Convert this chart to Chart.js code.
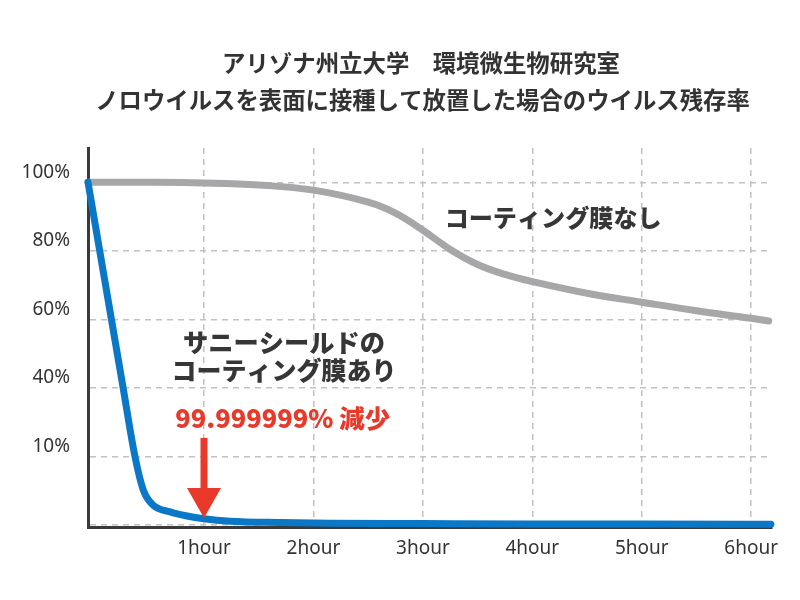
<!DOCTYPE html>
<html>
<head>
<meta charset="utf-8">
<script src="https://cdn.jsdelivr.net/npm/chart.js@4"></script>
<style>
  html, body { margin: 0; padding: 0; background: #ffffff; }
  #wrap { width: 800px; height: 600px; position: relative; }
</style>
</head>
<body>
<div id="wrap"><canvas id="c" width="800" height="600"></canvas></div>
<script>
// ---- data ----
const titleLines = ["アリゾナ州立大学　環境微生物研究室", "ノロウイルスを表面に接種して放置した場合のウイルス残存率"];
const xTickValues = [1, 2, 3, 4, 5, 6];
const xTickLabels = ["1hour", "2hour", "3hour", "4hour", "5hour", "6hour"];
const yTickValues = [0, 20, 40, 60, 80, 100];
const yTickLabels = ["", "10%", "40%", "60%", "80%", "100%"];

const seriesNames = ["サニーシールドのコーティング膜あり", "コーティング膜なし"];
const coatedHours = [-0.06, 0.047, 0.154, 0.261, 0.369, 0.445, 0.534, 0.69, 0.845, 1.0, 1.24, 1.7, 2.15, 3.0, 4.0, 5.0, 6.18];
const coatedValues = [100, 80, 60, 40, 20, 10.2, 5.8, 3.8, 2.6, 1.8, 1.1, 0.7, 0.5, 0.4, 0.3, 0.25, 0.2];
const uncoatedHours = [-0.06, 0.5, 1.0, 1.5, 2.0, 2.5, 2.75, 3.0, 3.25, 3.5, 3.75, 4.0, 4.5, 5.0, 5.5, 6.0, 6.16];
const uncoatedValues = [100, 100, 99.8, 99.2, 97.7, 94.2, 91.0, 86.0, 80.4, 76.0, 73.1, 71.0, 67.6, 65.0, 62.5, 60.3, 59.5];

const noteUncoated = "コーティング膜なし";
const noteCoated = ["サニーシールドの", "コーティング膜あり"];
const noteReduction = "99.999999% 減少";

// ---- build ----
const toPoints = (xs, ys) => xs.map((x, i) => ({ x: x, y: ys[i] }));

const CJK = '"Noto Sans CJK JP", "Noto Sans", sans-serif';

function fitText(ctx, text, cx, cy, width, weight, color) {
  ctx.font = weight + ' 20px ' + CJK;
  const w = ctx.measureText(text).width;
  const size = 20 * width / w;
  ctx.font = weight + ' ' + size.toFixed(2) + 'px ' + CJK;
  ctx.fillStyle = color;
  ctx.textAlign = 'center';
  ctx.textBaseline = 'middle';
  ctx.fillText(text, cx, cy);
}

const annotations = {
  id: 'annotations',
  afterDatasetsDraw(chart) {
    const ctx = chart.ctx;
    const xs = chart.scales.x, ys = chart.scales.y;
    ctx.save();
    // title
    fitText(ctx, titleLines[0], 421, 63, 398, '700', '#333333');
    fitText(ctx, titleLines[1], 422.5, 100, 655, '700', '#333333');
    // notes
    fitText(ctx, noteUncoated, xs.getPixelForValue(4.19), ys.getPixelForValue(89.5), 217, '900', '#363636');
    fitText(ctx, noteCoated[0], xs.getPixelForValue(1.73), ys.getPixelForValue(53.4), 202, '900', '#363636');
    fitText(ctx, noteCoated[1], xs.getPixelForValue(1.73), ys.getPixelForValue(45.2), 225, '900', '#363636');
    fitText(ctx, noteReduction, xs.getPixelForValue(1.72), ys.getPixelForValue(31.2), 215, '900', '#e8392a');
    // arrow
    const ax = xs.getPixelForValue(1.0);
    const yTop = ys.getPixelForValue(25.4);
    const yBase = ys.getPixelForValue(10.8);
    const yTip = ys.getPixelForValue(2.0);
    ctx.fillStyle = '#e8392a';
    ctx.fillRect(ax - 3.5, yTop, 7, yBase - yTop + 1);
    ctx.beginPath();
    ctx.moveTo(ax - 17, yBase);
    ctx.lineTo(ax + 17, yBase);
    ctx.lineTo(ax, yTip);
    ctx.closePath();
    ctx.fill();
    ctx.restore();
  }
};

new Chart(document.getElementById('c'), {
  type: 'line',
  data: {
    datasets: [
      {
        label: seriesNames[0],
        data: toPoints(coatedHours, coatedValues),
        borderColor: '#0a78c6',
        borderWidth: 7,
        pointRadius: 0,
        cubicInterpolationMode: 'monotone',
        borderCapStyle: 'round',
        borderJoinStyle: 'round',
        fill: false,
        clip: false
      },
      {
        label: seriesNames[1],
        data: toPoints(uncoatedHours, uncoatedValues),
        borderColor: '#a7a7a9',
        borderWidth: 7,
        pointRadius: 0,
        tension: 0.4,
        borderCapStyle: 'round',
        borderJoinStyle: 'round',
        fill: false,
        clip: false
      }
    ]
  },
  options: {
    responsive: false,
    animation: false,
    devicePixelRatio: 1,
    layout: { padding: { top: 148, right: 28, bottom: 0, left: 0 } },
    plugins: {
      legend: { display: false },
      title: { display: false },
      tooltip: { enabled: false }
    },
    scales: {
      x: {
        type: 'linear',
        min: -0.06,
        max: 6.19,
        afterBuildTicks(axis) { axis.ticks = xTickValues.map(v => ({ value: v })); },
        afterFit(axis) { axis.height = 73; },
        ticks: {
          padding: 10,
          color: '#333333',
          font: { family: '"Noto Sans", sans-serif', size: 19 },
          callback(value, index) { return xTickLabels[index]; }
        },
        grid: {
          color: '#c2c2c2',
          lineWidth: 1.5,
          drawTicks: false
        },
        border: { display: true, color: '#3a3a3a', width: 3, dash: [6, 5] }
      },
      y: {
        type: 'linear',
        min: -0.6,
        max: 110,
        afterBuildTicks(axis) { axis.ticks = yTickValues.map(v => ({ value: v })); },
        afterFit(axis) { axis.width = 88; },
        ticks: {
          padding: 18,
          labelOffset: -10,
          color: '#333333',
          font: { family: '"Noto Sans", sans-serif', size: 19 },
          callback(value, index) { return yTickLabels[index]; }
        },
        grid: {
          color: '#c2c2c2',
          lineWidth: 1.5,
          drawTicks: false
        },
        border: { display: true, color: '#3a3a3a', width: 3, dash: [6, 5] }
      }
    }
  },
  plugins: [annotations]
});
</script>
</body>
</html>
